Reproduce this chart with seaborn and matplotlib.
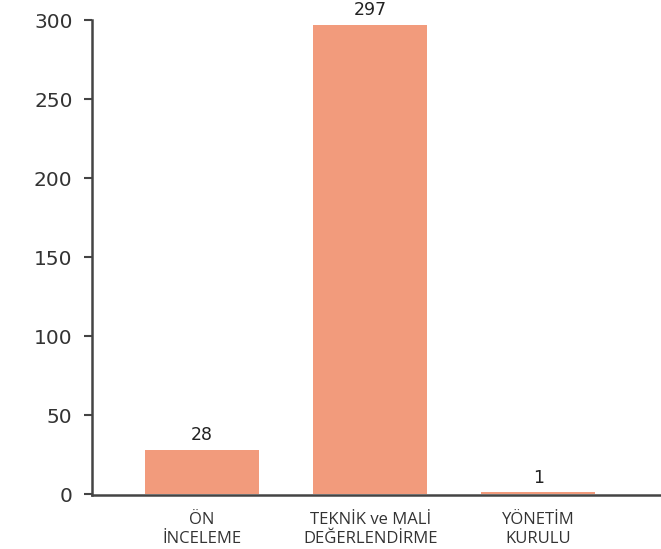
import matplotlib
matplotlib.use("Agg")
import matplotlib.pyplot as plt
import seaborn as sns
import pandas as pd

categories = ["ÖN\nİNCELEME", "TEKNİK ve MALİ\nDEĞERLENDİRME", "YÖNETİM\nKURULU"]
values = [28, 297, 1]
value_labels = ["28", "297", "1"]
yticks = [0, 50, 100, 150, 200, 250, 300]

sns.set_style("white")
df = pd.DataFrame({"cat": categories, "val": values})

fig = plt.figure(figsize=(6.61, 5.49), dpi=100)
ax = fig.add_axes([92/661, 54/549, 1 - 92/661, 475/549])
sns.barplot(data=df, x="cat", y="val", color="#F29B7C", saturation=1, width=0.68,
            linewidth=0, edgecolor="none", ax=ax)
for p in ax.patches:
    p.set_zorder(3)

ax.set_xlim(-0.655, 2.73)
ax.set_ylim(-0.6, 300)
ax.set_yticks(yticks)
ax.set_yticklabels([str(t) for t in yticks], fontsize=14.5, color="#333333", family="DejaVu Sans")
ax.set_xlabel("")
ax.set_ylabel("")
for s in ["top", "right"]:
    ax.spines[s].set_visible(False)
for s in ["left", "bottom"]:
    ax.spines[s].set_color("#444444")
    ax.spines[s].set_linewidth(1.8)
ax.tick_params(axis="y", left=True, direction="out", length=6, width=1.5, color="#444444", pad=8)
ax.tick_params(axis="x", bottom=False, length=0, pad=12)
for lab in ax.get_xticklabels():
    lab.set_fontsize(12)
    lab.set_color("#333333")
    lab.set_family("Open Sans")
    lab.set_linespacing(1.3)

for p, t in zip(ax.patches, value_labels):
    ax.annotate(t, (p.get_x() + p.get_width() / 2, p.get_height()),
                xytext=(0, 4), textcoords="offset points", ha="center", va="bottom",
                fontsize=12.5, color="#222222", annotation_clip=False)

fig.savefig("out.png", dpi=100)
